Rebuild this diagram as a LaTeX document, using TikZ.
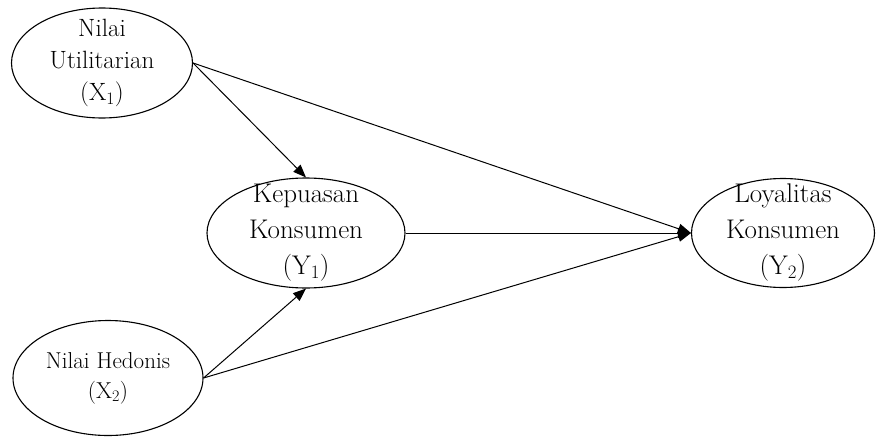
\documentclass[tikz,border=0pt]{standalone}
\usepackage{tikz}
\usetikzlibrary{shapes.geometric}
\usetikzlibrary{arrows.meta}
\tikzset{var/.style={ellipse,draw,inner sep=-25pt,line width=1.1pt,align=center},
         arr/.style={line width=1pt,-{Triangle[length=13pt,width=10pt]}}
         }

\begin{document}
\begin{tikzpicture}[x=1pt,y=-1pt]
  \useasboundingbox (0,0) rectangle (877,439);
  \node[var, minimum width=181pt, minimum height=110pt,
        font=\fontsize{25}{32}\selectfont] (x1) at (102,63)
        {Nilai\\Utilitarian\\(X\textsubscript{1})};
  \node[var, minimum width=190pt, minimum height=115pt,
        font=\fontsize{23}{30}\selectfont] (x2) at (108,378)
        {Nilai Hedonis\\(X\textsubscript{2})};
  \node[var, minimum width=198pt, minimum height=110pt,
        font=\fontsize{27}{36}\selectfont] (y1) at (306,233)
        {Kepuasan\\Konsumen\\(Y\textsubscript{1})};
  \node[var, minimum width=183pt, minimum height=109pt,
        font=\fontsize{27}{36}\selectfont] (y2) at (783,233)
        {Loyalitas\\Konsumen\\(Y\textsubscript{2})};
  \draw[arr] (x1.east) -- (y1.north);
  \draw[arr] (x1.east) -- (y2.west);
  \draw[arr] (y1.east) -- (y2.west);
  \draw[arr] (x2.east) -- (y1.south);
  \draw[arr] (x2.east) -- (y2.west);
\end{tikzpicture}
\end{document}
